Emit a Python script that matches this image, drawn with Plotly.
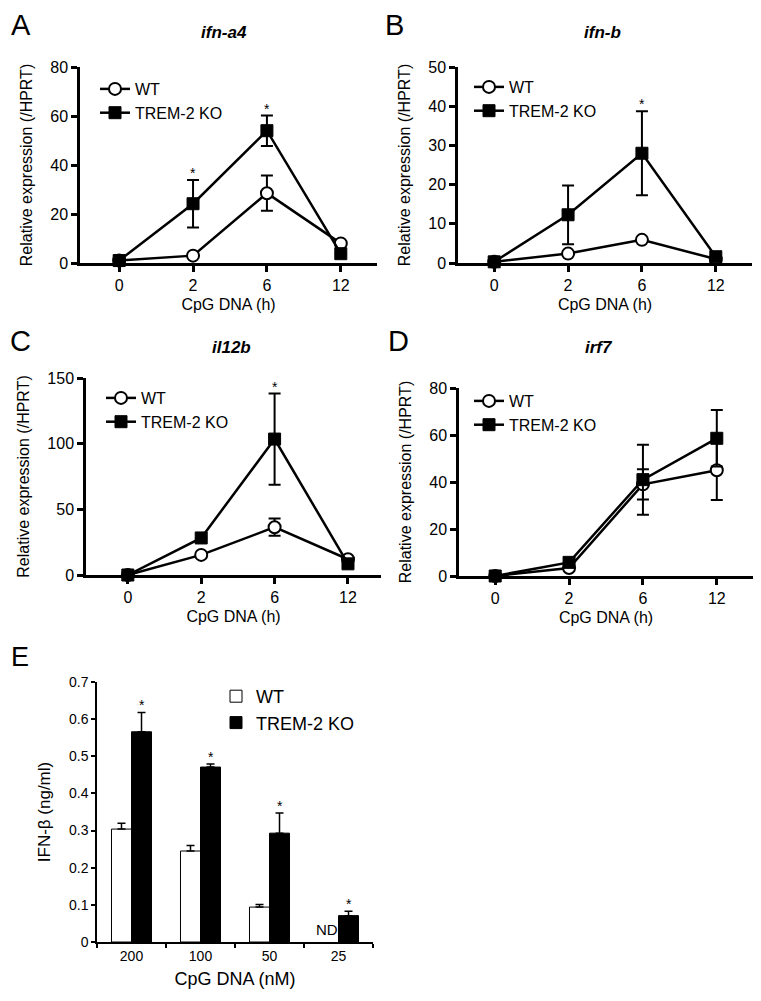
import plotly.graph_objects as go

# Screen is 761x1001; body has an 8px default margin, so the figure is
# sized to fit exactly inside it and positions are given in screen pixels.
SCREEN_W, SCREEN_H = 761, 1001
OFF = 8
W, H = SCREEN_W - 2 * OFF, SCREEN_H - 2 * OFF
FONT = "Liberation Sans, Arial, Helvetica, sans-serif"

# ---------------- data ----------------
times = ["0", "2", "6", "12"]

# A: ifn-a4
a_wt = [1.0, 3.0, 28.5, 8.0]
a_wt_err = [0, 0, 7.2, 0]
a_ko = [1.0, 24.2, 54.0, 3.8]
a_ko_err = [0, 9.7, 6.2, 0]
a_stars = ["2", "6"]

# B: ifn-b
b_wt = [0.3, 2.4, 5.9, 1.0]
b_wt_err = [0, 0, 0, 0]
b_ko = [0.3, 12.3, 28.0, 1.6]
b_ko_err = [0, 7.5, 10.7, 0]
b_stars = ["6"]

# C: il12b
c_wt = [0.0, 15.3, 36.4, 12.0]
c_wt_err = [0, 0, 6.6, 0]
c_ko = [0.0, 28.2, 103.5, 8.5]
c_ko_err = [0, 0, 34.7, 0]
c_stars = ["6"]

# D: irf7
d_wt = [0.0, 3.4, 39.0, 45.0]
d_wt_err = [0, 0, 6.4, 12.7]
d_ko = [0.0, 5.8, 41.0, 58.6]
d_ko_err = [0, 0, 14.9, 12.0]
d_stars = []

# E: IFN-beta ELISA
doses = ["200", "100", "50", "25"]
e_wt = [0.304, 0.245, 0.094, None]
e_wt_err = [0.016, 0.015, 0.007, 0]
e_ko = [0.566, 0.471, 0.293, 0.071]
e_ko_err = [0.052, 0.008, 0.054, 0.012]
e_stars = ["200", "100", "50", "25"]

series_names = ["WT", "TREM-2 KO"]
gene_titles = ["ifn-a4", "ifn-b", "il12b", "irf7"]
panel_letters = ["A", "B", "C", "D", "E"]
y_maxes = [80, 50, 150, 80]
y_dticks = [20, 10, 50, 20]

# ---------------- layout geometry (screen pixels) ----------------
# (x_left, x_right, y_top, y_bottom, xrange_left, xrange_right)
geo = [
    (80, 377, 67, 263, -0.53, 3.49),
    (458, 752, 67, 263, -0.49, 3.49),
    (86, 381, 378, 575, -0.57, 3.45),
    (459, 753, 388, 576, -0.49, 3.49),
]
legend_pos = [(95, 72), (469, 70), (101, 381), (469, 384)]
title_pos = [(224, 33), (602, 33), (232, 347), (599, 348)]
letter_pos = [(9, 25), (383, 25), (8, 341), (386, 341), (9, 657)]


def fx(p):
    return (p - OFF) / W


def fy(p):
    return 1 - (p - OFF) / H


fig = go.Figure()

panel_data = [
    (a_wt, a_wt_err, a_ko, a_ko_err, a_stars),
    (b_wt, b_wt_err, b_ko, b_ko_err, b_stars),
    (c_wt, c_wt_err, c_ko, c_ko_err, c_stars),
    (d_wt, d_wt_err, d_ko, d_ko_err, d_stars),
]

annotations = []
LW = 2.5

for i, (wt, wte, ko, koe, stars) in enumerate(panel_data):
    n = i + 1
    xa = "x" if n == 1 else f"x{n}"
    ya = "y" if n == 1 else f"y{n}"
    lg = "legend" if n == 1 else f"legend{n}"
    fig.add_trace(go.Scatter(
        x=times, y=wt, name=series_names[0], mode="lines+markers",
        line=dict(color="black", width=LW),
        marker=dict(symbol="circle", size=12, color="white",
                    line=dict(color="black", width=2)),
        error_y=dict(type="data", array=wte, visible=True, color="black",
                     thickness=2, width=6),
        xaxis=xa, yaxis=ya, legend=lg, cliponaxis=False,
    ))
    fig.add_trace(go.Scatter(
        x=times, y=ko, name=series_names[1], mode="lines+markers",
        line=dict(color="black", width=LW),
        marker=dict(symbol="square", size=12, color="black",
                    line=dict(color="black", width=1)),
        error_y=dict(type="data", array=koe, visible=True, color="black",
                     thickness=2, width=6),
        xaxis=xa, yaxis=ya, legend=lg, cliponaxis=False,
    ))
    xl, xr, yt, yb, r0, r1 = geo[i]
    axis_common = dict(
        showline=True, linecolor="black", linewidth=LW,
        ticks="outside", ticklen=6, tickwidth=LW, tickcolor="black",
        showgrid=False, zeroline=False, automargin=False,
        tickfont=dict(family=FONT, size=16, color="black"),
    )
    xkey = "xaxis" if n == 1 else f"xaxis{n}"
    ykey = "yaxis" if n == 1 else f"yaxis{n}"
    fig.update_layout(**{
        xkey: dict(axis_common, domain=[fx(xl), fx(xr)], anchor=ya,
                   type="category", range=[r0, r1],
                   title=dict(text="CpG DNA (h)", standoff=6,
                              font=dict(family=FONT, size=16, color="black"))),
        ykey: dict(axis_common, domain=[fy(yb), fy(yt)], anchor=xa,
                   range=[0, y_maxes[i]], dtick=y_dticks[i],
                   title=dict(text="Relative expression (/HPRT)", standoff=14,
                              font=dict(family=FONT, size=16, color="black"))),
    })
    lx, ly = legend_pos[i]
    fig.update_layout(**{lg: dict(
        x=fx(lx), y=fy(ly), xanchor="left", yanchor="top",
        bgcolor="rgba(0,0,0,0)", font=dict(family=FONT, size=16, color="black"),
        tracegroupgap=0,
    )})
    tx, ty = title_pos[i]
    annotations.append(dict(
        text=f"<b><i>{gene_titles[i]}</i></b>", x=fx(tx), y=fy(ty),
        xref="paper", yref="paper", xanchor="center", yanchor="middle",
        showarrow=False, font=dict(family=FONT, size=17, color="black")))
    for s in stars:
        k = times.index(s)
        annotations.append(dict(
            text="*", x=k, y=ko[k] + koe[k], xref=xa, yref=ya,
            xanchor="center", yanchor="bottom", yshift=-3, showarrow=False,
            font=dict(family=FONT, size=14, color="black")))

# ---------------- panel E ----------------
fig.add_trace(go.Bar(
    x=doses, y=e_wt, name=series_names[0],
    marker=dict(color="white", line=dict(color="black", width=1)),
    error_y=dict(type="data", symmetric=False, array=e_wt_err,
                 arrayminus=[0] * len(e_wt_err), color="black",
                 thickness=1.5, width=4),
    xaxis="x5", yaxis="y5", legend="legend5",
))
fig.add_trace(go.Bar(
    x=doses, y=e_ko, name=series_names[1],
    marker=dict(color="black", line=dict(color="black", width=1)),
    error_y=dict(type="data", symmetric=False, array=e_ko_err,
                 arrayminus=[0] * len(e_ko_err), color="black",
                 thickness=1.5, width=4),
    xaxis="x5", yaxis="y5", legend="legend5",
))
e_axis = dict(showline=True, linecolor="black", linewidth=1.5,
              ticks="outside", ticklen=4, tickwidth=1.5, tickcolor="black",
              showgrid=False, zeroline=False, automargin=False,
              tickfont=dict(family=FONT, size=14, color="black"))
fig.update_layout(
    xaxis5=dict(e_axis, domain=[fx(97), fx(373)], anchor="y5", type="category",
                range=[-0.5, 3.5], tickson="boundaries",
                title=dict(text="CpG DNA (nM)", standoff=10,
                           font=dict(family=FONT, size=18, color="black"))),
    yaxis5=dict(e_axis, domain=[fy(942), fy(682)], anchor="x5",
                range=[0, 0.7], dtick=0.1,
                title=dict(text="IFN-β (ng/ml)", standoff=14,
                           font=dict(family=FONT, size=17, color="black"))),
    legend5=dict(x=fx(216), y=fy(678), xanchor="left", yanchor="top",
                 bgcolor="rgba(0,0,0,0)",
                 font=dict(family=FONT, size=18, color="black")),
    barmode="group", bargap=0.42, bargroupgap=0,
)
BAR_SHIFT = 10  # half of one bar's width, in px
for s in e_stars:
    k = doses.index(s)
    annotations.append(dict(
        text="*", x=k, y=e_ko[k] + e_ko_err[k], xref="x5", yref="y5",
        xanchor="center", xshift=BAR_SHIFT, yanchor="bottom", yshift=-3,
        showarrow=False, font=dict(family=FONT, size=14, color="black")))
# ND label for the undetected WT value
nd_k = e_wt.index(None)
annotations.append(dict(
    text="ND", x=nd_k, y=0, xref="x5", yref="y5",
    xanchor="center", xshift=-BAR_SHIFT - 2, yanchor="bottom", yshift=2,
    showarrow=False, font=dict(family=FONT, size=15, color="black")))

for j, (lx, ly) in enumerate(letter_pos):
    annotations.append(dict(
        text=panel_letters[j], x=fx(lx), y=fy(ly), xref="paper", yref="paper",
        xanchor="left", yanchor="middle", showarrow=False,
        font=dict(family=FONT, size=29 if j < 4 else 27, color="black")))

fig.update_layout(
    width=W, height=H,
    margin=dict(l=0, r=0, t=0, b=0, pad=0, autoexpand=False),
    paper_bgcolor="white", plot_bgcolor="white",
    annotations=annotations, showlegend=True,
    font=dict(family=FONT, color="black"),
)

fig.write_html("out.html")
